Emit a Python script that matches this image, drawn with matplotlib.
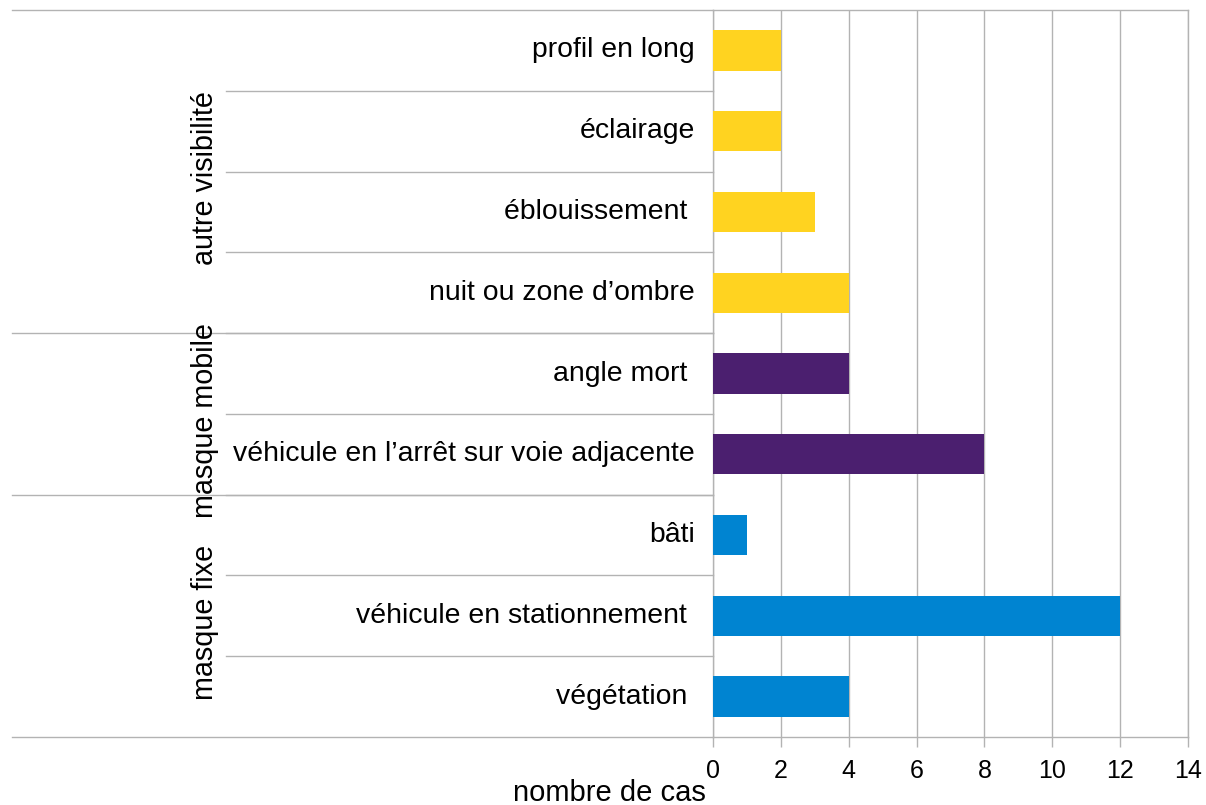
import matplotlib
matplotlib.use('Agg')
import matplotlib.pyplot as plt
import matplotlib.transforms as mtransforms

plt.rcParams['font.family'] = ['Liberation Sans', 'DejaVu Sans']

# data, bottom to top
categories = ['végétation ', 'véhicule en stationnement ', 'bâti',
              'véhicule en l’arrêt sur voie adjacente', 'angle mort ',
              'nuit ou zone d’ombre', 'éblouissement ', 'éclairage', 'profil en long']
values = [4, 12, 1, 8, 4, 4, 3, 2, 2]
groups = ['masque fixe', 'masque mobile', 'autre visibilité']
group_sizes = [3, 2, 4]
group_colors = ['#0084d1', '#4b1f6f', '#ffd320']
xticks = [0, 2, 4, 6, 8, 10, 12, 14]

W, H = 1206, 805
fig = plt.figure(figsize=(W / 100, H / 100), dpi=100)
left, right, top, bottom = 713, 1188, 10, 737
ax = fig.add_axes([left / W, (H - bottom) / H, (right - left) / W, (bottom - top) / H])

colors = []
for c, n in zip(group_colors, group_sizes):
    colors += [c] * n

ax.barh(range(len(values)), values, height=0.5, color=colors, zorder=3)
ax.set_xlim(0, 14)
ax.set_ylim(-0.5, len(values) - 0.5)
ax.set_xticks(xticks)
ax.set_xticklabels([str(t) for t in xticks], fontsize=18)
ax.tick_params(axis='x', direction='out', length=7.5, width=1, color='#b3b3b3', pad=8)
ax.set_yticks([])
ax.grid(axis='x', color='#b3b3b3', linewidth=1, zorder=0)
for s in ax.spines.values():
    s.set_color('#b3b3b3')
    s.set_linewidth(1)

trans = mtransforms.blended_transform_factory(ax.transAxes, ax.transData)
inner_x = (226 - left) / (right - left)
outer_x = (12 - left) / (right - left)
label_x = -18 / (right - left)
group_x = (205 - left) / (right - left)

for i, lab in enumerate(categories):
    ax.text(label_x, i, lab, transform=trans, ha='right', va='center', fontsize=20.4)

# separator lines
for i in range(1, len(values)):
    ax.plot([inner_x, 0], [i - 0.5, i - 0.5], transform=trans, color='#b3b3b3',
            linewidth=1, clip_on=False)

bounds = [-0.5]
for n in group_sizes:
    bounds.append(bounds[-1] + n)
for b in bounds:
    ax.plot([outer_x, 0], [b, b], transform=trans, color='#b3b3b3',
            linewidth=1, clip_on=False)
for g, lo, hi in zip(groups, bounds[:-1], bounds[1:]):
    ax.text(group_x, (lo + hi) / 2 - 0.08, g, transform=trans, rotation=90,
            ha='center', va='center', fontsize=20.7)

fig.text(609 / W, 1 - 793 / H, 'nombre de cas', ha='center', va='center', fontsize=21)

fig.savefig('out.png', dpi=100)
